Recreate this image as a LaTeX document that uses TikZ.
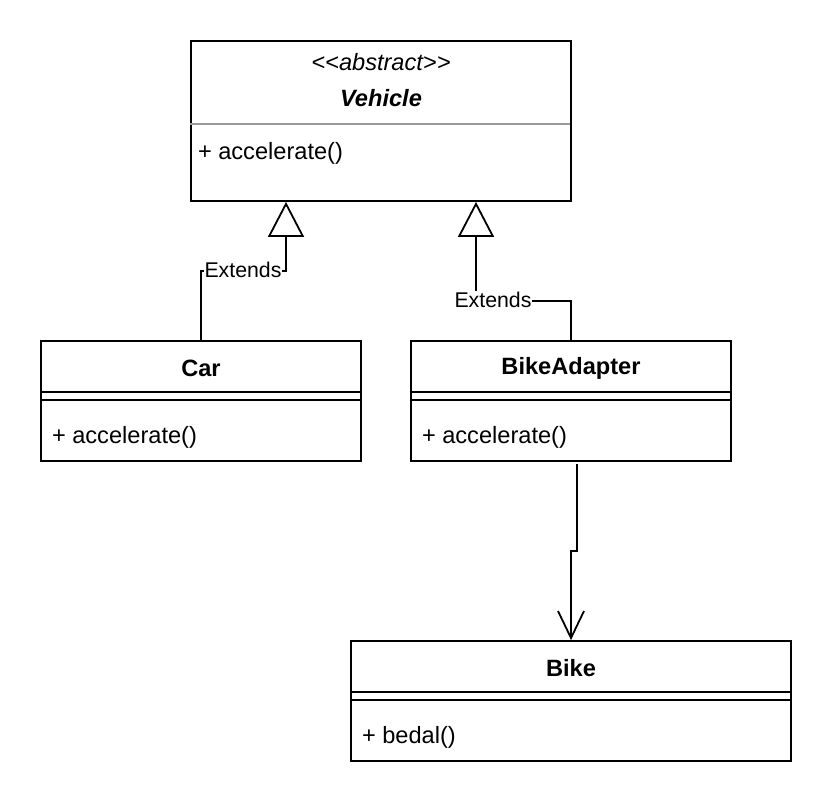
\documentclass[tikz,border=0pt]{standalone}
\usepackage{fontspec}
\setmainfont{Liberation Sans}
\usetikzlibrary{arrows.meta}
\begin{document}
\begin{tikzpicture}[x=1pt,y=-1pt,line width=1.8pt,
  clase/.style={draw,rectangle,inner sep=0pt},
  titulo/.style={font=\fontsize{23.6}{28}\selectfont\bfseries,inner sep=0pt},
  metodo/.style={font=\fontsize{23.6}{28}\selectfont,anchor=west,inner sep=0pt},
  etiqueta/.style={font=\fontsize{21.3}{25}\selectfont,fill=white,inner sep=1pt},
  hereda/.style={-{Triangle[open,fill=white,width=36pt,length=35pt]}},
  usa/.style={-{Straight Barb[width=26pt,length=27pt]}}]
\useasboundingbox (0,0) rectangle (832,808);
% clases
\node[clase,minimum width=380pt,minimum height=160pt] (vehicle) at (381,121) {};
\node[clase,minimum width=320pt,minimum height=120pt] (car) at (201,401) {};
\node[clase,minimum width=320pt,minimum height=120pt] (adapter) at (571,401) {};
\node[clase,minimum width=440pt,minimum height=120pt] (bike) at (571,701) {};
% Vehicle
\node[titulo,font=\fontsize{23.6}{28}\selectfont\itshape] (vstereo) at (381,62) {<\kern0pt<abstract>\kern0pt>};
\node[titulo,font=\fontsize{23.6}{28}\selectfont\bfseries\itshape] (vname) at (381,98) {Vehicle};
\draw[gray!80] ([yshift=-84pt]vehicle.north west) -- ([yshift=-84pt,xshift=-2pt]vehicle.north east);
\node[metodo] (vmet) at ([xshift=7pt,yshift=-113pt]vehicle.north west) {+ accelerate()};
% Car
\node[titulo] (cname) at ([yshift=-28pt]car.north) {Car};
\draw ([yshift=-52pt]car.north west) -- ([yshift=-52pt]car.north east);
\draw ([yshift=-60pt]car.north west) -- ([yshift=-60pt]car.north east);
\node[metodo] (cmet) at ([xshift=11pt,yshift=-97pt]car.north west) {+ accelerate()};
% BikeAdapter
\node[titulo] (aname) at ([yshift=-28pt]adapter.north) {BikeAdapter};
\draw ([yshift=-52pt]adapter.north west) -- ([yshift=-52pt]adapter.north east);
\draw ([yshift=-60pt]adapter.north west) -- ([yshift=-60pt]adapter.north east);
\node[metodo] (amet) at ([xshift=11pt,yshift=-97pt]adapter.north west) {+ accelerate()};
% Bike
\node[titulo] (bname) at ([yshift=-28pt]bike.north) {Bike};
\draw ([yshift=-52pt]bike.north west) -- ([yshift=-52pt]bike.north east);
\draw ([yshift=-60pt]bike.north west) -- ([yshift=-60pt]bike.north east);
\node[metodo] (bmet) at ([xshift=11pt,yshift=-97pt]bike.north west) {+ bedal()};
% relaciones
\coordinate (codo1) at (286,271);
\coordinate (codo2) at (476,301);
\coordinate (codo3) at (577,551);
\coordinate (salida) at ([xshift=6pt,yshift=-2pt]adapter.south);
\draw[hereda] (car.north) |- (codo1) -- (codo1 |- vehicle.south);
\node[etiqueta] (ext1) at (243,270) {Extends};
\draw[hereda] (adapter.north) |- (codo2) -- (codo2 |- vehicle.south);
\node[etiqueta] (ext2) at (493,300) {Extends};
\draw[usa] (salida) -- (codo3) -- (codo3 -| bike.north) -- (bike.north);
\end{tikzpicture}
\end{document}
